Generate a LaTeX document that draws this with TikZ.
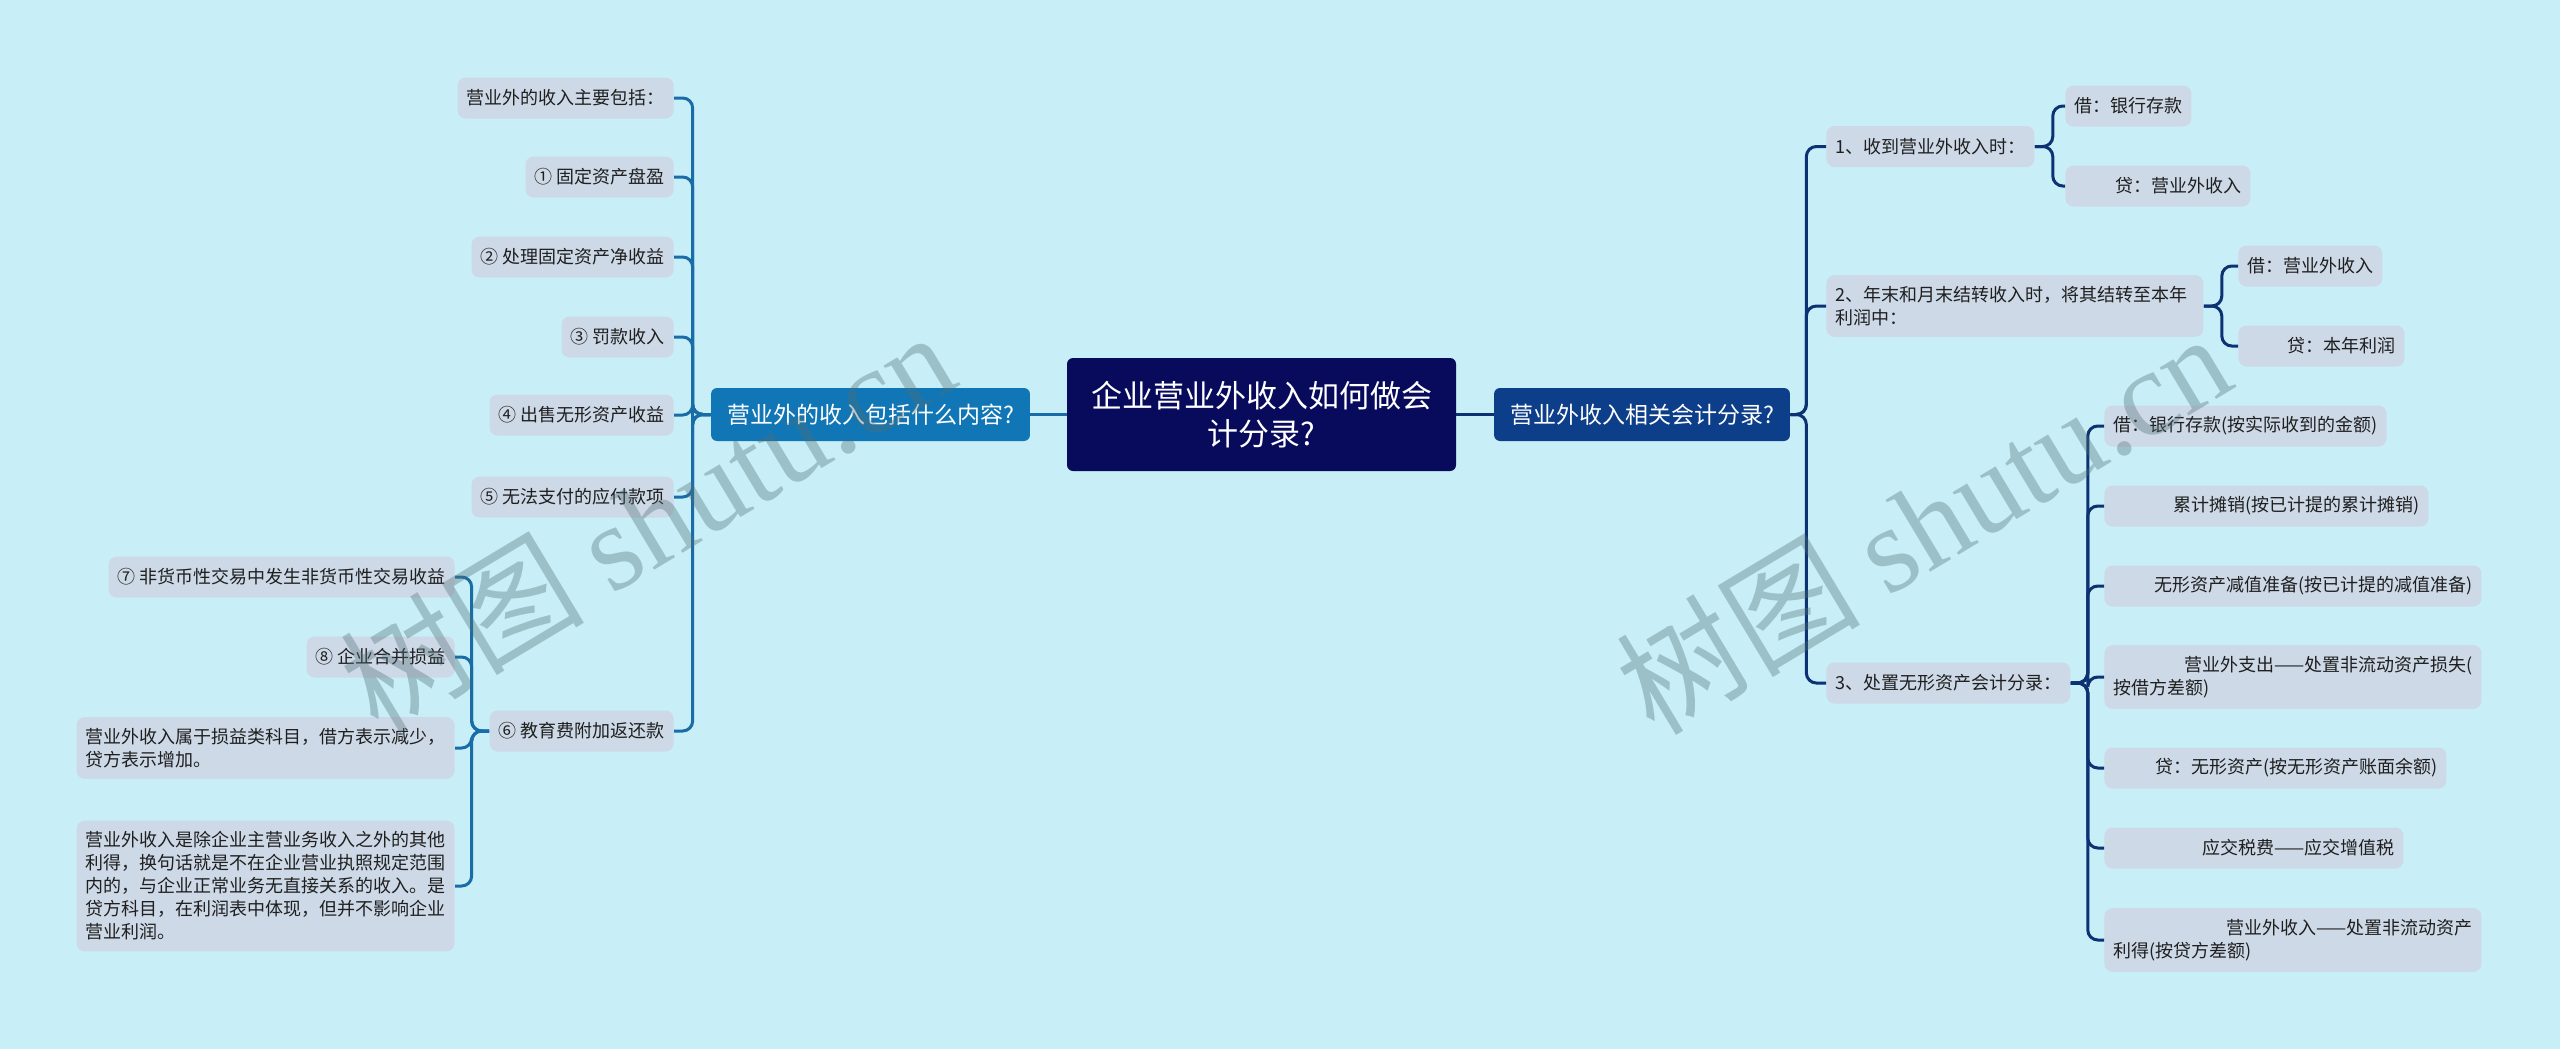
\documentclass[tikz,border=0pt]{standalone}
\usepackage{fontspec}
\setmainfont{Noto Sans CJK SC}
\newfontfamily\wmlatin{Liberation Serif}
\definecolor{bgc}{RGB}{200,239,247}
\definecolor{rootc}{RGB}{8,10,92}
\definecolor{lmainc}{RGB}{17,118,181}
\definecolor{rmainc}{RGB}{13,62,138}
\definecolor{leafc}{RGB}{205,217,231}
\definecolor{llinec}{RGB}{26,108,166}
\definecolor{rlinec}{RGB}{12,50,115}
\definecolor{wmc}{RGB}{80,110,115}

\begin{document}
\begin{tikzpicture}[x=0.5pt,y=-0.5pt,
  every node/.style={font=\fontsize{9}{11.5}\selectfont, text=black!88},
  root/.style={fill=rootc, text=white, rounded corners=3pt, align=center,
    font=\fontsize{15.5}{19.2}\selectfont, minimum width=194.5pt, minimum height=56.5pt, inner sep=0pt},
  lmain/.style={fill=lmainc, text=white, rounded corners=3pt,
    font=\fontsize{11.5}{13}\selectfont, inner xsep=8pt, minimum height=26.5pt},
  rmain/.style={lmain, fill=rmainc},
  leaf/.style={fill=leafc, rounded corners=4pt, inner xsep=4.5pt, inner ysep=5.5pt, minimum height=20.5pt},
  lleaf/.style={leaf, anchor=east},
  rleaf/.style={leaf, anchor=west},
  lline/.style={draw=llinec, line width=1.5pt, rounded corners=5pt},
  rline/.style={draw=rlinec, line width=1.5pt, rounded corners=5pt},
  wmark/.style={text=wmc, text opacity=0.36, rotate=31, font=\fontsize{61}{61}\selectfont}]

\path[use as bounding box, fill=bgc] (0,0) rectangle (2560,1049);

\node[root] (root) at (1261.5,414.5) {企业营业外收入如何做会\\计分录?};
\node[lmain] (L) at (870.5,414.5) {营业外的收入包括什么内容?};
\node[rmain] (R) at (1642,414.5) {营业外收入相关会计分录?};

% left branch
\node[lleaf] (L0) at (674,98) {营业外的收入主要包括：};
\node[lleaf] (L1) at (674,177) {① 固定资产盘盈};
\node[lleaf] (L2) at (674,257) {② 处理固定资产净收益};
\node[lleaf] (L3) at (674,337) {③ 罚款收入};
\node[lleaf] (L4) at (674,415) {④ 出售无形资产收益};
\node[lleaf] (L5) at (674,497) {⑤ 无法支付的应付款项};
\node[lleaf] (L6) at (674,731) {⑥ 教育费附加返还款};
\node[lleaf] (L7) at (455,577) {⑦ 非货币性交易中发生非货币性交易收益};
\node[lleaf] (L8) at (455,657) {⑧ 企业合并损益};
\node[lleaf, text width=180pt, align=left] (N1) at (455,748) {营业外收入属于损益类科目，借方表示减少，\\贷方表示增加。};
\node[lleaf, text width=180pt, align=left] (N2) at (455,886) {营业外收入是除企业主营业务收入之外的其他\\利得，换句话就是不在企业营业执照规定范围\\内的，与企业正常业务无直接关系的收入。是\\贷方科目，在利润表中体现，但并不影响企业\\营业利润。};

% right branch
\node[rleaf] (R1) at (1826,146.5) {1、收到营业外收入时：};
\node[rleaf] (R1a) at (2065,106) {借：银行存款};
\node[rleaf, text width=83.5pt, align=right] (R1b) at (2065,186) {贷：营业外收入};
\node[rleaf, text width=179.5pt, align=left] (R2) at (1826,306) {2、年末和月末结转收入时，将其结转至本年\\利润中：};
\node[rleaf] (R2a) at (2238,266) {借：营业外收入};
\node[rleaf, text width=74pt, align=right] (R2b) at (2238,346) {贷：本年利润};
\node[rleaf] (R3) at (1826,683) {3、处置无形资产会计分录：};
\node[rleaf] (R3a) at (2104,426) {借：银行存款(按实际收到的金额)};
\node[rleaf, text width=153pt, align=right] (R3b) at (2104,506) {累计摊销(按已计提的累计摊销)};
\node[rleaf, text width=179.5pt, align=right] (R3c) at (2104,586) {无形资产减值准备(按已计提的减值准备)};
\node[rleaf, text width=179.5pt, align=left] (R3d) at (2104,677) {\hfill 营业外支出——处置非流动资产损失(\\按借方差额)};
\node[rleaf, text width=162pt, align=right] (R3e) at (2104,768) {贷：无形资产(按无形资产账面余额)};
\node[rleaf, text width=140.5pt, align=right] (R3f) at (2104,848) {应交税费——应交增值税};
\node[rleaf, text width=179.5pt, align=left] (R3g) at (2104,940) {\hfill 营业外收入——处置非流动资产\\利得(按贷方差额)};

\draw[lline] (root) -- (L);
\draw[rline] (root) -- (R);

\draw[lline] (L.west) -- ++(-18,0) |- (L0.east);
\draw[lline] (L.west) -- ++(-18,0) |- (L1.east);
\draw[lline] (L.west) -- ++(-18,0) |- (L2.east);
\draw[lline] (L.west) -- ++(-18,0) |- (L3.east);
\draw[lline] (L.west) -- ++(-18,0) |- (L4.east);
\draw[lline] (L.west) -- ++(-18,0) |- (L5.east);
\draw[lline] (L.west) -- ++(-18,0) |- (L6.east);
\draw[lline] (L6.west) -- ++(-17.5,0) |- (L7.east);
\draw[lline] (L6.west) -- ++(-17.5,0) |- (L8.east);
\draw[lline] (L6.west) -- ++(-17.5,0) |- (N1.east);
\draw[lline] (L6.west) -- ++(-17.5,0) |- (N2.east);

\draw[rline] (R.east) -- ++(16,0) |- (R1.west);
\draw[rline] (R.east) -- ++(16,0) |- (R2.west);
\draw[rline] (R.east) -- ++(16,0) |- (R3.west);
\draw[rline] (R1.east) -- ++(18,0) |- (R1a.west);
\draw[rline] (R1.east) -- ++(18,0) |- (R1b.west);
\draw[rline] (R2.east) -- ++(18,0) |- (R2a.west);
\draw[rline] (R2.east) -- ++(18,0) |- (R2b.west);
\draw[rline] (R3.east) -- ++(17,0) |- (R3a.west);
\draw[rline] (R3.east) -- ++(17,0) |- (R3b.west);
\draw[rline] (R3.east) -- ++(17,0) |- (R3c.west);
\draw[rline] (R3.east) -- ++(17,0) |- (R3d.west);
\draw[rline] (R3.east) -- ++(17,0) |- (R3e.west);
\draw[rline] (R3.east) -- ++(17,0) |- (R3f.west);
\draw[rline] (R3.east) -- ++(17,0) |- (R3g.west);

% watermark
\node[wmark] (wm1) at (647,520) {树图 {\wmlatin shutu.cn}};
\node[wmark] (wm2) at (1923,522) {树图 {\wmlatin shutu.cn}};
\end{tikzpicture}
\end{document}
